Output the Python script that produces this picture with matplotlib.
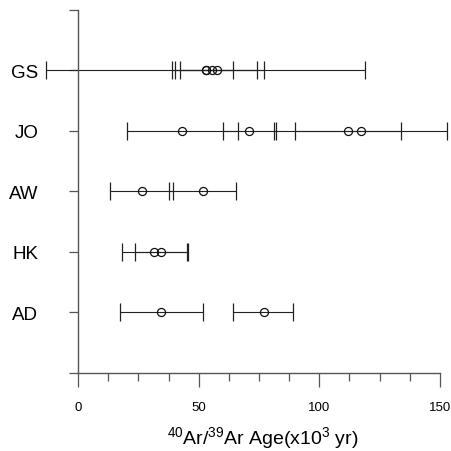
import numpy as np
import matplotlib
matplotlib.use("Agg")
import matplotlib.pyplot as plt

plt.rcParams['font.family'] = ['Liberation Sans', 'DejaVu Sans']
plt.rcParams['mathtext.fontset'] = 'custom'
plt.rcParams['mathtext.rm'] = 'Liberation Sans'
plt.rcParams['mathtext.it'] = 'Liberation Sans'

# sites, bottom to top
sites = ['AD', 'HK', 'AW', 'JO', 'GS']

# age estimates (x10^3 yr): mean with lower / upper ends of each bar
ad_mean = [34.4, 77.1]
ad_low = [17.5, 64.4]
ad_high = [51.7, 89.2]

hk_mean = [31.6, 34.4]
hk_low = [18.1, 23.5]
hk_high = [45.3, 45.6]

aw_mean = [26.4, 51.7]
aw_low = [13.3, 37.6]
aw_high = [39.5, 65.5]

jo_mean = [43.0, 71.0, 112.0, 117.1]
jo_low = [20.2, 59.9, 90.1, 81.1]
jo_high = [66.2, 82.0, 133.8, 153.0]

gs_mean = [52.9, 52.9, 55.6, 57.7]
gs_low = [-13.3, 42.3, 39.1, 40.2]
gs_high = [118.9, 64.1, 74.0, 77.2]

x_ticks = [0, 50, 100, 150]

fig = plt.figure(figsize=(4.51, 4.52), dpi=100)
ax = fig.add_axes([0.0927, 0.1726, 0.8829, 0.8031])

data = [(ad_mean, ad_low, ad_high), (hk_mean, hk_low, hk_high),
        (aw_mean, aw_low, aw_high), (jo_mean, jo_low, jo_high),
        (gs_mean, gs_low, gs_high)]

for i, (mean, low, high) in enumerate(data):
    mean = np.array(mean)
    low = np.array(low)
    high = np.array(high)
    y = np.full(len(mean), i + 1)
    cont = ax.errorbar(mean, y, xerr=[mean - low, high - mean], fmt='o',
                       mfc='none', mec='#111111', mew=0.9, ms=5.8,
                       ecolor='#222222', elinewidth=0.8, capsize=6.5,
                       capthick=0.8)
    for art in cont.get_children():
        art.set_clip_on(False)

ax.set_xlim(-15, 150)
ax.set_ylim(0, 6)

ax.spines['top'].set_visible(False)
ax.spines['right'].set_visible(False)
ax.spines['left'].set_position(('data', 0))
ax.spines['bottom'].set_bounds(0, 150)
for s in ['left', 'bottom']:
    ax.spines[s].set_color('#555555')
    ax.spines[s].set_linewidth(1.0)

ax.set_xticks(x_ticks)
ax.set_xticks(np.arange(0, 151, 12.5), minor=True)
ax.tick_params(axis='x', which='major', direction='out', length=10,
               width=0.9, color='#555555', pad=10, labelsize=9.5)
ax.tick_params(axis='x', which='minor', direction='out', length=5.8,
               width=0.9, color='#555555')

ax.set_yticks(range(7))
ax.set_yticklabels([''] + sites + [''])
ax.tick_params(axis='y', direction='out', length=6.5, width=0.9,
               color='#555555', pad=22, labelsize=13.5)

ax.set_xlabel(r'$^{40}$Ar/$^{39}$Ar Age(x10$^{3}$ yr)', fontsize=14)
ax.xaxis.set_label_coords(0.556, -0.142)

fig.savefig('out.png', dpi=100)
